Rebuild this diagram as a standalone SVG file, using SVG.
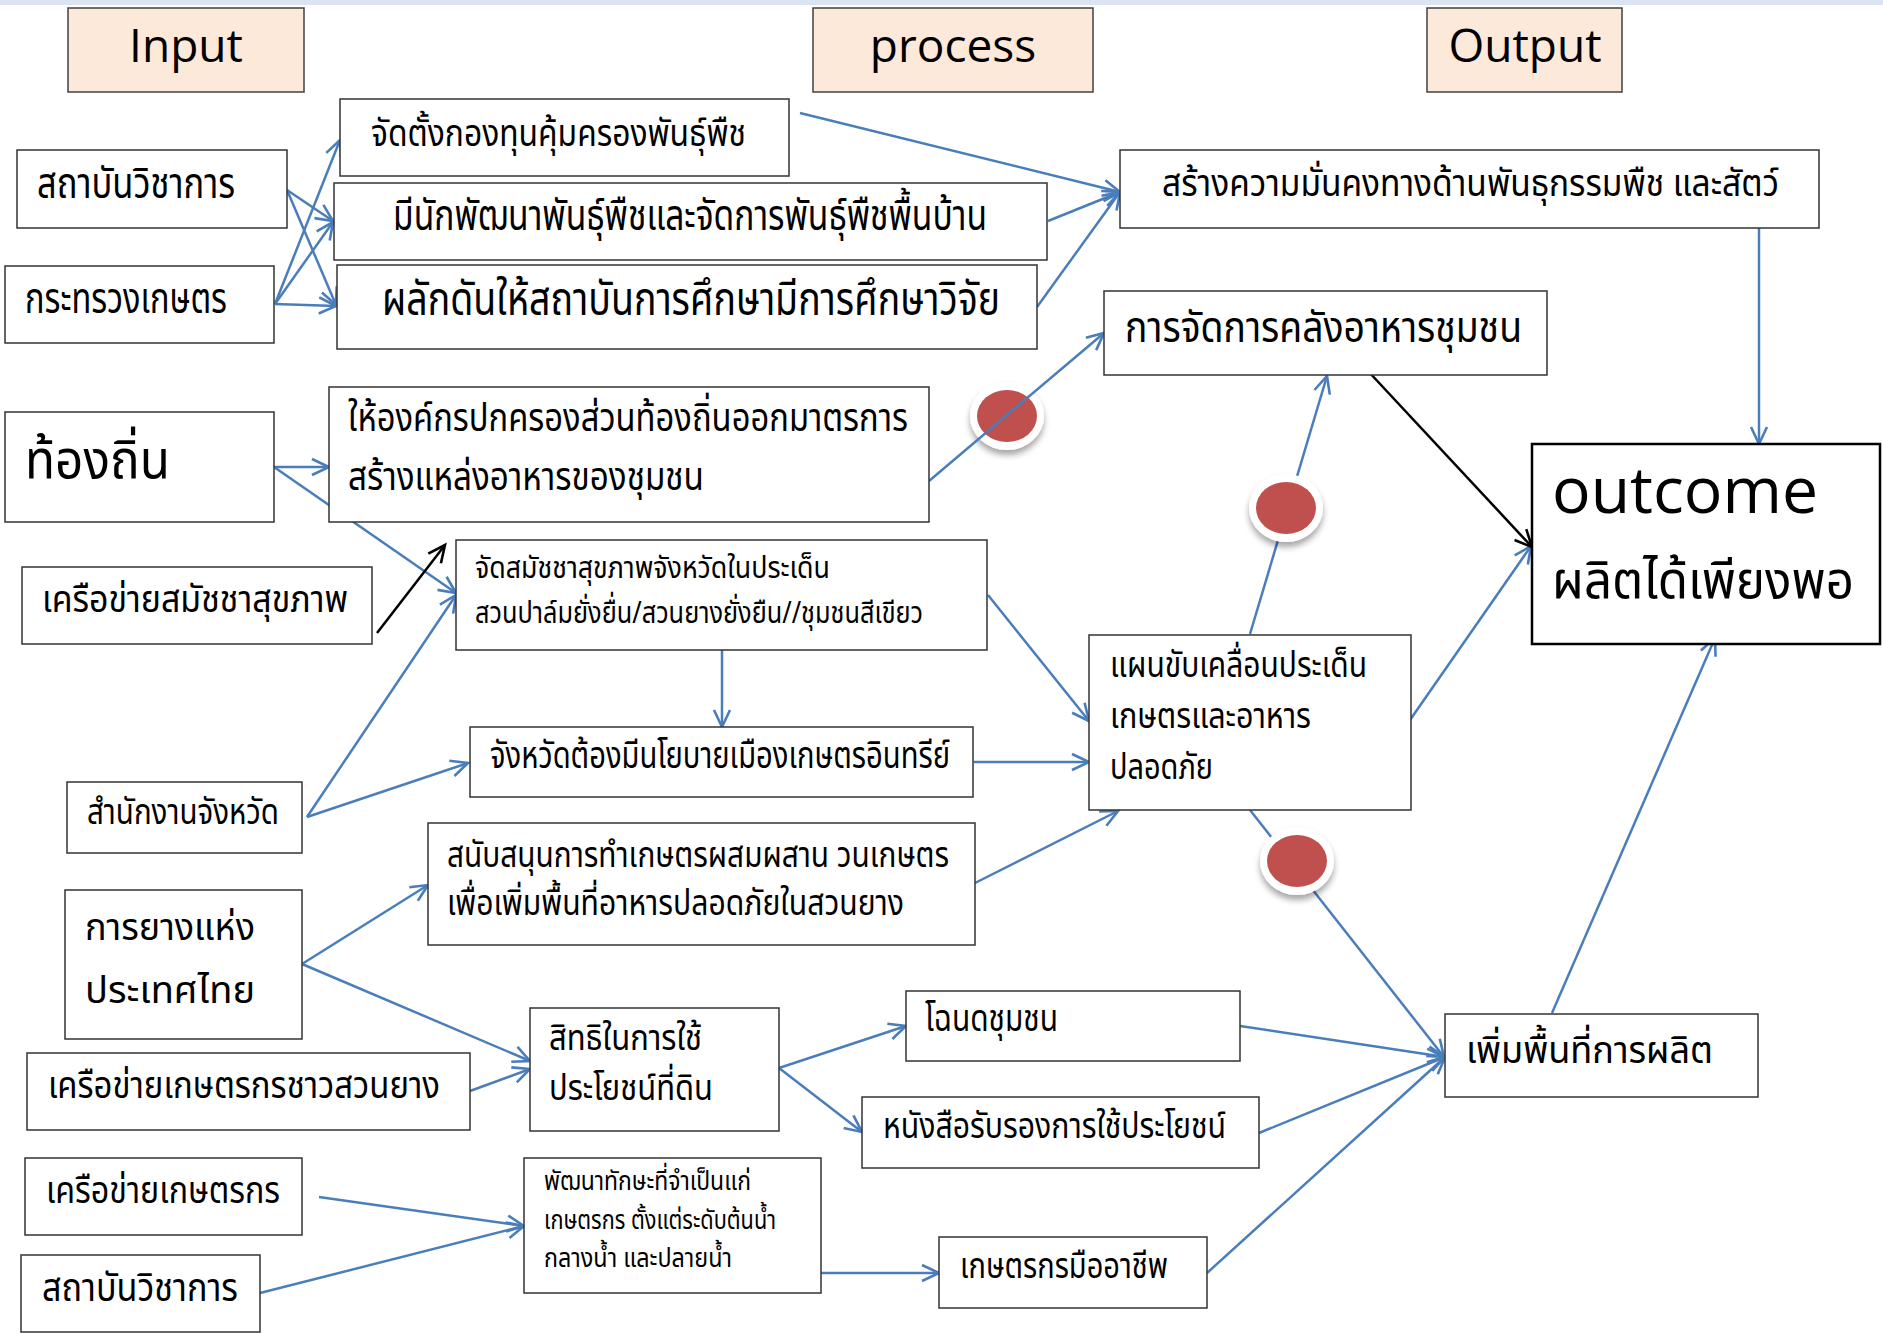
<svg xmlns="http://www.w3.org/2000/svg" width="1883" height="1333" viewBox="0 0 1883 1333">
<defs>
<style>
.bg{fill:#ffffff}
.box{fill:#ffffff;stroke:#333333;stroke-width:1.5}
.hdr{fill:#fde9d9;stroke:#404040;stroke-width:1.5}
.th{font-family:'Noto Sans Thai','Noto Sans Thai UI','Loma','Garuda','Norasi','Tlwg Typo','DejaVu Sans',sans-serif;fill:#000000}
.en{font-family:'Open Sans','Noto Sans',sans-serif;fill:#000000}
.c{fill:none;stroke:#4a7ebb;stroke-width:2.5}
.k{fill:none;stroke:#000000;stroke-width:2.5}
.dotw{fill:#ffffff}
.dotr{fill:#c0504d}
</style>
<marker id="ab" markerUnits="userSpaceOnUse" markerWidth="24" markerHeight="24" viewBox="-20 -12 24 24" refX="0" refY="0" orient="auto">
<path d="M-17,-8 L0,0 L-17,8" fill="none" stroke="#4a7ebb" stroke-width="2.6"/>
</marker>
<marker id="ak" markerUnits="userSpaceOnUse" markerWidth="24" markerHeight="24" viewBox="-20 -12 24 24" refX="0" refY="0" orient="auto">
<path d="M-17,-8 L0,0 L-17,8" fill="none" stroke="#000000" stroke-width="2.6"/>
</marker>
<filter id="sh" x="-50%" y="-50%" width="200%" height="200%">
<feDropShadow dx="0" dy="5" stdDeviation="3" flood-color="#000000" flood-opacity="0.35"/>
</filter>
</defs>
<rect class="bg" x="0" y="0" width="1883" height="1333"/>
<rect x="0" y="0" width="1883" height="5" fill="#dbe5f1"/>

<g id="hdr-input"><rect class="hdr" x="68" y="8" width="236" height="84"/><text class="en" x="186" y="62" font-size="46" text-anchor="middle">Input</text></g>
<g id="hdr-process"><rect class="hdr" x="813" y="8" width="280" height="84"/><text class="en" x="953" y="62" font-size="46" text-anchor="middle">process</text></g>
<g id="hdr-output"><rect class="hdr" x="1427" y="8" width="195" height="84"/><text class="en" x="1525" y="62" font-size="46" text-anchor="middle">Output</text></g>

<g id="dot1"><ellipse cx="1007" cy="416" rx="37" ry="34" class="dotw" filter="url(#sh)"/><ellipse cx="1007" cy="416" rx="30" ry="26" class="dotr"/></g>

<g id="connectors">
<line class="c" x1="287" y1="190" x2="333" y2="221" marker-end="url(#ab)"/>
<line class="c" x1="287" y1="190" x2="336" y2="305" marker-end="url(#ab)"/>
<line class="c" x1="275" y1="304" x2="340" y2="140" marker-end="url(#ab)"/>
<line class="c" x1="275" y1="304" x2="333" y2="222" marker-end="url(#ab)"/>
<line class="c" x1="275" y1="304" x2="336" y2="306" marker-end="url(#ab)"/>
<line class="c" x1="800" y1="113" x2="1120" y2="192" marker-end="url(#ab)"/>
<line class="c" x1="1048" y1="221" x2="1120" y2="192" marker-end="url(#ab)"/>
<line class="c" x1="1037" y1="307" x2="1120" y2="192" marker-end="url(#ab)"/>
<line class="c" x1="274" y1="467" x2="329" y2="467" marker-end="url(#ab)"/>
<line class="c" x1="274" y1="467" x2="456" y2="593" marker-end="url(#ab)"/>
<line class="c" x1="307" y1="817" x2="456" y2="595" marker-end="url(#ab)"/>
<line class="c" x1="307" y1="817" x2="468" y2="763" marker-end="url(#ab)"/>
<line class="c" x1="722" y1="650" x2="722" y2="727" marker-end="url(#ab)"/>
<line class="c" x1="929" y1="481" x2="1104" y2="333" marker-end="url(#ab)"/>
<line class="c" x1="988" y1="595" x2="1089" y2="721" marker-end="url(#ab)"/>
<line class="c" x1="974" y1="762" x2="1089" y2="762" marker-end="url(#ab)"/>
<line class="c" x1="975" y1="883" x2="1118" y2="811" marker-end="url(#ab)"/>
<line class="c" x1="1250" y1="634" x2="1327" y2="376" marker-end="url(#ab)"/>
<line class="c" x1="1250" y1="810" x2="1444" y2="1057" marker-end="url(#ab)"/>
<line class="c" x1="1410" y1="720" x2="1531" y2="546" marker-end="url(#ab)"/>
<line class="c" x1="1759" y1="228" x2="1759" y2="444" marker-end="url(#ab)"/>
<line class="c" x1="1552" y1="1013" x2="1715" y2="638" marker-end="url(#ab)"/>
<line class="c" x1="302" y1="964" x2="428" y2="885" marker-end="url(#ab)"/>
<line class="c" x1="302" y1="964" x2="530" y2="1061" marker-end="url(#ab)"/>
<line class="c" x1="470" y1="1091" x2="530" y2="1069" marker-end="url(#ab)"/>
<line class="c" x1="779" y1="1068" x2="906" y2="1026" marker-end="url(#ab)"/>
<line class="c" x1="779" y1="1068" x2="862" y2="1132" marker-end="url(#ab)"/>
<line class="c" x1="1240" y1="1026" x2="1445" y2="1057" marker-end="url(#ab)"/>
<line class="c" x1="1259" y1="1133" x2="1445" y2="1057" marker-end="url(#ab)"/>
<line class="c" x1="1207" y1="1273" x2="1445" y2="1057" marker-end="url(#ab)"/>
<line class="c" x1="821" y1="1273" x2="939" y2="1273" marker-end="url(#ab)"/>
<line class="c" x1="319" y1="1197" x2="524" y2="1226" marker-end="url(#ab)"/>
<line class="c" x1="260" y1="1293" x2="524" y2="1226" marker-end="url(#ab)"/>
<line class="k" x1="377" y1="633" x2="445" y2="545" marker-end="url(#ak)"/>
<line class="k" x1="1368" y1="371" x2="1532" y2="547" marker-end="url(#ak)"/>
</g>

<g id="dot2"><ellipse cx="1286" cy="508" rx="37" ry="34" class="dotw" filter="url(#sh)"/><ellipse cx="1286" cy="508" rx="30" ry="26" class="dotr"/></g>
<g id="dot3"><ellipse cx="1297" cy="861" rx="37" ry="34" class="dotw" filter="url(#sh)"/><ellipse cx="1297" cy="861" rx="30" ry="26" class="dotr"/></g>

<g id="n-sathaban1"><rect class="box" x="17" y="150" width="270" height="78"/><text class="th" x="37" y="198" font-size="42" textLength="198" lengthAdjust="spacingAndGlyphs">สถาบันวิชาการ</text></g>
<g id="n-krasuang"><rect class="box" x="5" y="266" width="269" height="77"/><text class="th" x="25" y="313" font-size="42" textLength="202" lengthAdjust="spacingAndGlyphs">กระทรวงเกษตร</text></g>
<g id="n-thongthin"><rect class="box" x="5" y="412" width="269" height="110"/><text class="th" x="25" y="478" font-size="54" textLength="145" lengthAdjust="spacingAndGlyphs">ท้องถิ่น</text></g>
<g id="n-samatcha-net"><rect class="box" x="22" y="567" width="350" height="77"/><text class="th" x="42" y="612" font-size="38" textLength="306" lengthAdjust="spacingAndGlyphs">เครือข่ายสมัชชาสุขภาพ</text></g>
<g id="n-office"><rect class="box" x="67" y="782" width="235" height="71"/><text class="th" x="87" y="824" font-size="35" textLength="192" lengthAdjust="spacingAndGlyphs">สำนักงานจังหวัด</text></g>
<g id="n-rubber"><rect class="box" x="65" y="890" width="237" height="149"/><text class="th" x="85" y="940" font-size="38" textLength="170" lengthAdjust="spacingAndGlyphs">การยางแห่ง</text><text class="th" x="85" y="1003" font-size="38" textLength="170" lengthAdjust="spacingAndGlyphs">ประเทศไทย</text></g>
<g id="n-rubber-net"><rect class="box" x="27" y="1053" width="443" height="77"/><text class="th" x="48" y="1098" font-size="38" textLength="392" lengthAdjust="spacingAndGlyphs">เครือข่ายเกษตรกรชาวสวนยาง</text></g>
<g id="n-farmer-net"><rect class="box" x="25" y="1158" width="277" height="77"/><text class="th" x="46" y="1203" font-size="38" textLength="234" lengthAdjust="spacingAndGlyphs">เครือข่ายเกษตรกร</text></g>
<g id="n-sathaban2"><rect class="box" x="21" y="1255" width="239" height="77"/><text class="th" x="42" y="1301" font-size="39" textLength="196" lengthAdjust="spacingAndGlyphs">สถาบันวิชาการ</text></g>

<g id="n-fund"><rect class="box" x="340" y="99" width="449" height="77"/><text class="th" x="371" y="146" font-size="37" textLength="375" lengthAdjust="spacingAndGlyphs">จัดตั้งกองทุนคุ้มครองพันธุ์พืช</text></g>
<g id="n-breeder"><rect class="box" x="334" y="183" width="713" height="77"/><text class="th" x="393" y="230" font-size="42" textLength="594" lengthAdjust="spacingAndGlyphs">มีนักพัฒนาพันธุ์พืชและจัดการพันธุ์พืชพื้นบ้าน</text></g>
<g id="n-research"><rect class="box" x="337" y="265" width="700" height="84"/><text class="th" x="382" y="315" font-size="47" textLength="618" lengthAdjust="spacingAndGlyphs">ผลักดันให้สถาบันการศึกษามีการศึกษาวิจัย</text></g>
<g id="n-local-gov"><rect class="box" x="329" y="387" width="600" height="135"/><text class="th" x="348" y="431" font-size="40" textLength="560" lengthAdjust="spacingAndGlyphs">ให้องค์กรปกครองส่วนท้องถิ่นออกมาตรการ</text><text class="th" x="348" y="490" font-size="40" textLength="356" lengthAdjust="spacingAndGlyphs">สร้างแหล่งอาหารของชุมชน</text></g>
<g id="n-assembly"><rect class="box" x="456" y="540" width="531" height="110"/><text class="th" x="475" y="578" font-size="31" textLength="355" lengthAdjust="spacingAndGlyphs">จัดสมัชชาสุขภาพจังหวัดในประเด็น</text><text class="th" x="475" y="623" font-size="31" textLength="448" lengthAdjust="spacingAndGlyphs">สวนปาล์มยั่งยื่น/สวนยางยั่งยืน//ชุมชนสีเขียว</text></g>
<g id="n-organic"><rect class="box" x="470" y="727" width="503" height="70"/><text class="th" x="490" y="768" font-size="38" textLength="460" lengthAdjust="spacingAndGlyphs">จังหวัดต้องมีนโยบายเมืองเกษตรอินทรีย์</text></g>
<g id="n-agroforest"><rect class="box" x="428" y="823" width="547" height="122"/><text class="th" x="447" y="867" font-size="35" textLength="502" lengthAdjust="spacingAndGlyphs">สนับสนุนการทำเกษตรผสมผสาน วนเกษตร</text><text class="th" x="447" y="915" font-size="35" textLength="457" lengthAdjust="spacingAndGlyphs">เพื่อเพิ่มพื้นที่อาหารปลอดภัยในสวนยาง</text></g>
<g id="n-landright"><rect class="box" x="530" y="1008" width="249" height="123"/><text class="th" x="549" y="1050" font-size="36" textLength="153" lengthAdjust="spacingAndGlyphs">สิทธิในการใช้</text><text class="th" x="549" y="1100" font-size="36" textLength="164" lengthAdjust="spacingAndGlyphs">ประโยชน์ที่ดิน</text></g>
<g id="n-skills"><rect class="box" x="524" y="1158" width="297" height="135"/><text class="th" x="544" y="1190" font-size="27" textLength="207" lengthAdjust="spacingAndGlyphs">พัฒนาทักษะที่จำเป็นแก่</text><text class="th" x="544" y="1229" font-size="27" textLength="232" lengthAdjust="spacingAndGlyphs">เกษตรกร ตั้งแต่ระดับต้นน้ำ</text><text class="th" x="544" y="1267" font-size="27" textLength="188" lengthAdjust="spacingAndGlyphs">กลางน้ำ และปลายน้ำ</text></g>
<g id="n-deed"><rect class="box" x="906" y="991" width="334" height="70"/><text class="th" x="925" y="1031" font-size="38" textLength="133" lengthAdjust="spacingAndGlyphs">โฉนดชุมชน</text></g>
<g id="n-cert"><rect class="box" x="862" y="1097" width="397" height="71"/><text class="th" x="883" y="1138" font-size="36" textLength="343" lengthAdjust="spacingAndGlyphs">หนังสือรับรองการใช้ประโยชน์</text></g>
<g id="n-pro-farmer"><rect class="box" x="939" y="1237" width="268" height="71"/><text class="th" x="960" y="1278" font-size="36" textLength="208" lengthAdjust="spacingAndGlyphs">เกษตรกรมืออาชีพ</text></g>

<g id="n-genetic"><rect class="box" x="1120" y="150" width="699" height="78"/><text class="th" x="1162" y="196" font-size="37" textLength="617" lengthAdjust="spacingAndGlyphs">สร้างความมั่นคงทางด้านพันธุกรรมพืช และสัตว์</text></g>
<g id="n-foodbank"><rect class="box" x="1104" y="291" width="443" height="84"/><text class="th" x="1125" y="342" font-size="42" textLength="397" lengthAdjust="spacingAndGlyphs">การจัดการคลังอาหารชุมชน</text></g>
<g id="n-plan"><rect class="box" x="1089" y="635" width="322" height="175"/><text class="th" x="1110" y="677" font-size="35" textLength="257" lengthAdjust="spacingAndGlyphs">แผนขับเคลื่อนประเด็น</text><text class="th" x="1110" y="728" font-size="35" textLength="201" lengthAdjust="spacingAndGlyphs">เกษตรและอาหาร</text><text class="th" x="1110" y="779" font-size="35" textLength="103" lengthAdjust="spacingAndGlyphs">ปลอดภัย</text></g>
<g id="n-outcome"><rect x="1532" y="444" width="348" height="200" fill="#ffffff" stroke="#000000" stroke-width="2.5"/><text class="en" x="1552" y="513" font-size="64" textLength="266" lengthAdjust="spacingAndGlyphs">outcome</text><text class="th" x="1552" y="598" font-size="52" textLength="302" lengthAdjust="spacingAndGlyphs">ผลิตได้เพียงพอ</text></g>
<g id="n-area"><rect class="box" x="1445" y="1014" width="313" height="83"/><text class="th" x="1466" y="1063" font-size="38" textLength="247" lengthAdjust="spacingAndGlyphs">เพิ่มพื้นที่การผลิต</text></g>
</svg>
